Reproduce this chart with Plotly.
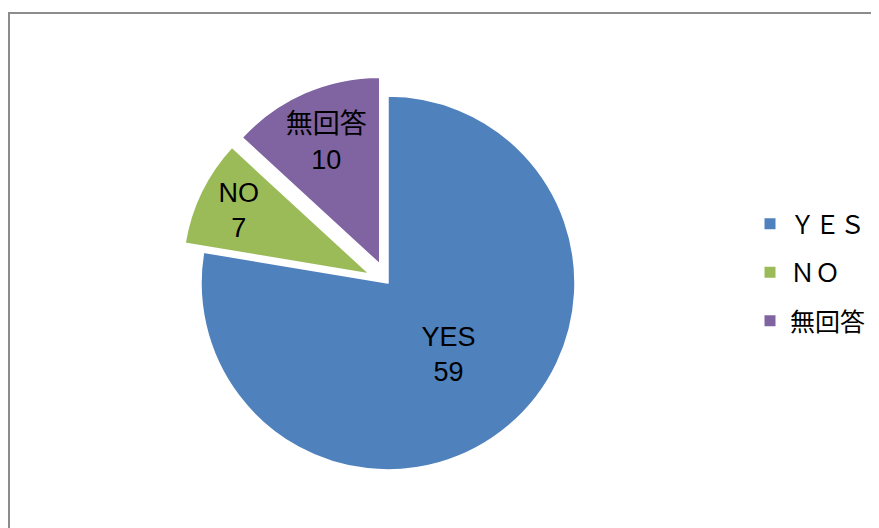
import plotly.graph_objects as go

labels = ["YES", "NO", "無回答"]
legend_labels = ["ＹＥＳ", "ＮＯ", "無回答"]
values = [59, 7, 10]
colors = ["#4F81BD", "#9BBB59", "#8064A2"]
pulls = [0, 0.11, 0.11]

W, H = 879, 528
off = 8  # page body margin
cx, cy, r = 388 - off, 283 - off, 187
R = r * (1 + max(pulls))

fig = go.Figure()
fig.add_trace(go.Pie(
    labels=labels, values=values, sort=False, direction="clockwise", rotation=0,
    pull=pulls, showlegend=False,
    marker=dict(colors=colors, line=dict(color="white", width=1.5)),
    texttemplate="%{label}<br>%{value}", textposition="inside",
    insidetextorientation="horizontal",
    textfont=dict(family="Liberation Sans, Noto Sans CJK JP", size=27, color="black"),
    domain=dict(x=[(cx - R) / W, (cx + R) / W], y=[1 - (cy + R) / H, 1 - (cy - R) / H]),
    hoverinfo="label+value",
))
for lab, col in zip(legend_labels, colors):
    fig.add_trace(go.Scatter(
        x=[None], y=[None], mode="markers", name=lab, legendgroup=lab,
        marker=dict(symbol="square", size=11, color=col),
    ))

fig.update_layout(
    width=W, height=H, margin=dict(l=0, r=0, t=0, b=0),
    paper_bgcolor="white", plot_bgcolor="white",
    xaxis=dict(visible=False), yaxis=dict(visible=False),
    legend=dict(x=742 / W, y=1 - 193 / H, xanchor="left", yanchor="top",
                font=dict(family="Liberation Sans, Noto Sans CJK JP", size=25, color="black"),
                tracegroupgap=13, itemwidth=30),
    shapes=[dict(type="rect", xref="paper", yref="paper",
                 x0=1 / W, x1=1.05, y0=-0.05, y1=1 - 5 / H,
                 line=dict(color="#8C8C8C", width=2), fillcolor="rgba(0,0,0,0)")],
)
fig.write_html("out.html")
